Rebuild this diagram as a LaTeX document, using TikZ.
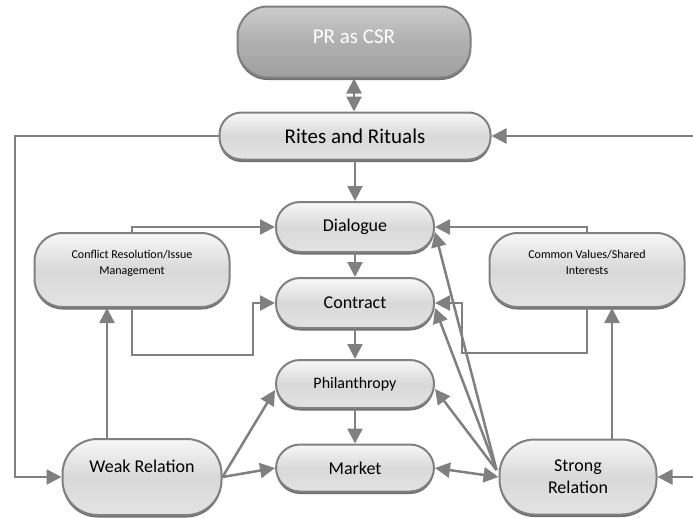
\documentclass[tikz,border=0pt]{standalone}
\usepackage{fontspec}
\setmainfont{Carlito}
\usetikzlibrary{arrows.meta,shadows,positioning}

\begin{document}
\begin{tikzpicture}[x=1pt, y=-1pt,
        box/.style={rectangle, draw=gray, line width=2pt, rounded corners=24pt, top color=gray!6, bottom color=gray!22, middle color=gray!30, text=black, align=center, font=\fontsize{18}{22}\selectfont, drop shadow={shadow xshift=0pt, shadow yshift=-2.5pt, fill=gray!60!black, opacity=0.8}},
        topbox/.style={box, top color=gray!40, bottom color=gray!75, middle color=gray!62, text=white, rounded corners=30pt, font=\fontsize{21}{25}\selectfont},
        bigbox/.style={box, rounded corners=35pt},
        sidebox/.style={box, rounded corners=28pt, font=\fontsize{12}{16}\selectfont},
        arrow/.style={-{Triangle[length=15pt,width=15pt]}, draw=gray, line width=2.5pt},
        twoway/.style={arrow, {Triangle[length=15pt,width=15pt]}-{Triangle[length=15pt,width=15pt]}}
    ]
        \useasboundingbox (0,0) rectangle (693,517);

        % PR as CSR
        \node[topbox, minimum width=233pt, minimum height=71pt] (pr) at (354,42) {\raisebox{5pt}[\height][\depth]{PR as CSR}};

        % Rites and Rituals
        \node[box, minimum width=271pt, minimum height=47pt, rounded corners=22pt, font=\fontsize{21}{25}\selectfont] (rites) at (355,136) {Rites and Rituals};

        % middle column
        \node[box, minimum width=158pt, minimum height=50pt] (dialogue) at (355,227) {Dialogue};
        \node[box, minimum width=158pt, minimum height=50pt] (contract) at (355,303) {Contract};
        \node[box, minimum width=158pt, minimum height=48pt, font=\fontsize{16}{20}\selectfont] (phil) at (355,384) {Philanthropy};
        \node[box, minimum width=158pt, minimum height=47pt] (market) at (355,468) {Market};

        % Relations
        \node[bigbox, minimum width=159pt, minimum height=76pt] (weak) at (142,477) {Weak Relation\\\mbox{}};
        \node[bigbox, minimum width=157pt, minimum height=75pt] (strong) at (578,477) {Strong\\Relation};

        % Side boxes
        \node[sidebox, minimum width=195pt, minimum height=74pt] (conflict) at (132,270) {Conflict Resolution/Issue\\Management\\\mbox{}};
        \node[sidebox, minimum width=195pt, minimum height=74pt] (common) at (587,270) {Common Values/Shared\\Interests\\\mbox{}};

        % Helper points
        \coordinate (lft) at (15,477);
        \coordinate (rgttop) at (693,136);
        \coordinate (rgtbot) at (693,477);
        \coordinate (cfbend) at (253,355);
        \coordinate (cvbend) at (462,353);
        \coordinate (weaktop) at ([xshift=-35pt]weak.north);
        \coordinate (strtop) at ([xshift=34pt]strong.north);
        \coordinate (hub) at ([shift={(-2,-7)}]strong.west);

        % Connections
        \draw[twoway] (pr) -- (pr |- rites.north);
        \draw[arrow] (rites) -- (dialogue);
        \draw[arrow] (dialogue) -- (contract);
        \draw[arrow] (contract) -- (phil);
        \draw[arrow] (phil) -- (market);

        \draw[arrow] (rites.west) -| (lft) -- (weak.west);
        \draw[arrow] (rgttop) -- (rites.east);
        \draw[arrow] (rgtbot) -- (strong.east);

        \draw[arrow] (conflict.north) |- (dialogue.west);
        \draw[arrow] (conflict.south) |- (cfbend) |- (contract.west);
        \draw[arrow] (common.north) |- (dialogue.east);
        \draw[arrow] (common.south) |- (cvbend) |- (contract.east);

        \draw[arrow] (weaktop) -- (weaktop |- conflict.south);
        \draw[arrow] (strtop) -- (strtop |- common.south);

        \draw[arrow] (weak.east) -- ([yshift=-6pt]phil.west);
        \draw[arrow] (weak.east) -- (market.west);

        \draw[arrow] (hub) -- ([yshift=-5pt]dialogue.east);
        \draw[arrow] (hub) -- ([yshift=-5pt]contract.east);
        \draw[arrow] (hub) -- ([yshift=-5pt]phil.east);
        \draw[twoway] (market.east) -- (strong.west);

    \end{tikzpicture}
\end{document}
